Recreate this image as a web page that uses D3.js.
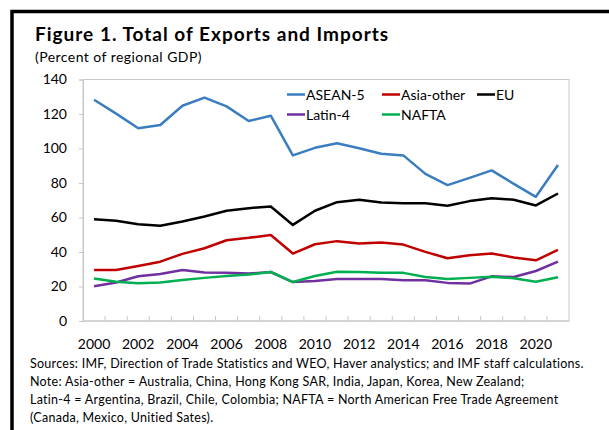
<!DOCTYPE html>
<html>
<head>
<meta charset="utf-8">
<script src="https://cdn.jsdelivr.net/npm/d3@7"></script>
<style>
  body { margin: 0; background: #fff; }
  svg { display: block; font-family: Lato, "Open Sans", sans-serif; }
</style>
</head>
<body>
<svg width="609" height="430"></svg>
<script>
// data
var years = [2000, 2001, 2002, 2003, 2004, 2005, 2006, 2007, 2008, 2009, 2010,
             2011, 2012, 2013, 2014, 2015, 2016, 2017, 2018, 2019, 2020, 2021];
var asean5 = [128.3, 120.2, 111.7, 113.6, 124.8, 129.5, 124.4, 115.9, 119.0, 96.0, 100.4,
              103.0, 100.1, 97.0, 96.0, 85.3, 78.8, 83.0, 87.3, 79.5, 72.0, 90.4];
var asiaOther = [29.6, 29.6, 31.9, 34.4, 38.9, 42.2, 46.8, 48.2, 49.9, 39.1, 44.5,
                 46.3, 44.9, 45.5, 44.3, 40.1, 36.4, 38.1, 39.1, 36.8, 35.2, 41.2];
var eu = [59.0, 58.1, 56.1, 55.2, 57.7, 60.6, 63.9, 65.4, 66.4, 55.7, 63.9,
          68.9, 70.3, 68.7, 68.3, 68.3, 66.8, 69.5, 71.2, 70.3, 67.0, 73.9];
var latin4 = [20.1, 22.3, 25.9, 27.3, 29.6, 28.1, 27.9, 27.5, 28.4, 22.6, 23.2,
              24.4, 24.4, 24.4, 23.6, 23.6, 22.1, 21.7, 25.9, 25.5, 29.0, 34.4];
var nafta = [24.6, 22.8, 21.9, 22.3, 23.8, 25.0, 26.1, 26.9, 28.4, 22.6, 26.1,
             28.6, 28.4, 27.9, 27.9, 25.5, 24.4, 25.0, 25.7, 24.8, 22.8, 25.4];
var yTicks = [0, 20, 40, 60, 80, 100, 120, 140];
var xLabels = [2000, 2002, 2004, 2006, 2008, 2010, 2012, 2014, 2016, 2018, 2020];

var series = [
  {name: "ASEAN-5", values: asean5, color: "#3a7dc1"},
  {name: "Asia-other", values: asiaOther, color: "#c00000"},
  {name: "EU", values: eu, color: "#000000"},
  {name: "Latin-4", values: latin4, color: "#7030a0"},
  {name: "NAFTA", values: nafta, color: "#00b050"}
];

var svg = d3.select("svg");
var plot = {left: 83, right: 569, top: 79.5, bottom: 321};

// outer frame (only top and left visible)
svg.append("path")
    .attr("d", "M12,430 L12,11.5 L609,11.5")
    .attr("fill", "none")
    .attr("stroke", "#000")
    .attr("stroke-width", 3.5);

svg.append("text")
    .attr("x", 35).attr("y", 41)
    .attr("font-size", 19).attr("font-weight", "bold")
    .attr("letter-spacing", 1)
    .text("Figure 1. Total of Exports and Imports");

svg.append("text")
    .attr("x", 35).attr("y", 62)
    .attr("font-size", 14)
    .attr("letter-spacing", 0.45)
    .text("(Percent of regional GDP)");

var x = d3.scaleBand().domain(years).range([plot.left, plot.right]);
var y = d3.scaleLinear().domain([0, 140]).range([plot.bottom, plot.top]);

// plot frame
svg.append("rect")
    .attr("x", plot.left).attr("y", plot.top)
    .attr("width", plot.right - plot.left)
    .attr("height", plot.bottom - plot.top)
    .attr("fill", "none")
    .attr("stroke", "#c8c8c8");

// y axis
var yAxis = svg.append("g")
    .attr("transform", "translate(" + plot.left + ",0)")
    .call(d3.axisLeft(y).tickValues(yTicks).tickSize(4).tickPadding(12));
yAxis.select(".domain").attr("stroke", "#c8c8c8");
yAxis.selectAll(".tick line").attr("stroke", "#c8c8c8");
yAxis.selectAll(".tick text")
    .attr("font-size", 14).attr("font-family", "Lato, sans-serif").attr("fill", "#000");

// x axis: ticks between categories, pointing inwards
var xAxis = svg.append("g").attr("transform", "translate(0," + plot.bottom + ")");
xAxis.append("line")
    .attr("x1", plot.left).attr("x2", plot.right)
    .attr("stroke", "#c8c8c8");
xAxis.selectAll(".xtick")
    .data(years.slice(1))
    .enter()
    .append("line")
    .attr("x1", d => x(d)).attr("x2", d => x(d))
    .attr("y1", 0).attr("y2", -5)
    .attr("stroke", "#c8c8c8");
xAxis.selectAll(".xlab")
    .data(xLabels)
    .enter()
    .append("text")
    .attr("x", d => x(d) + x.bandwidth() / 2)
    .attr("y", 27.5)
    .attr("text-anchor", "middle")
    .attr("font-size", 14)
    .text(d => d);

// lines
var line = d3.line()
    .x((d, i) => x(years[i]) + x.bandwidth() / 2)
    .y(d => y(d));

svg.selectAll(".series")
    .data(series)
    .enter()
    .append("path")
    .attr("d", d => line(d.values))
    .attr("fill", "none")
    .attr("stroke", d => d.color)
    .attr("stroke-width", 2.5)
    .attr("stroke-linejoin", "round");

// legend
var legendPos = [[287, 94.5], [382, 94.5], [477, 94.5], [287, 114.5], [382, 114.5]];
var legend = svg.selectAll(".legend")
    .data(series)
    .enter()
    .append("g")
    .attr("transform", (d, i) => "translate(" + legendPos[i][0] + "," + legendPos[i][1] + ")");
legend.append("line")
    .attr("x1", 0).attr("x2", 18)
    .attr("stroke", d => d.color)
    .attr("stroke-width", 2.5);
legend.append("text")
    .attr("x", 19).attr("y", 5)
    .attr("font-size", 14)
    .text(d => d.name);

// notes
var notes = [
  "Sources: IMF, Direction of Trade Statistics and WEO, Haver analystics; and IMF staff calculations.",
  "Note: Asia-other = Australia, China, Hong Kong SAR, India, Japan, Korea, New Zealand;",
  "Latin-4 = Argentina, Brazil, Chile, Colombia; NAFTA = North American Free Trade Agreement",
  "(Canada, Mexico, Unitied Sates)."
];
svg.selectAll(".note")
    .data(notes)
    .enter()
    .append("text")
    .attr("x", 30)
    .attr("y", (d, i) => 367.5 + i * 18.2)
    .attr("font-size", 12.5)
    .attr("letter-spacing", 0.27)
    .text(d => d);
</script>
</body>
</html>
